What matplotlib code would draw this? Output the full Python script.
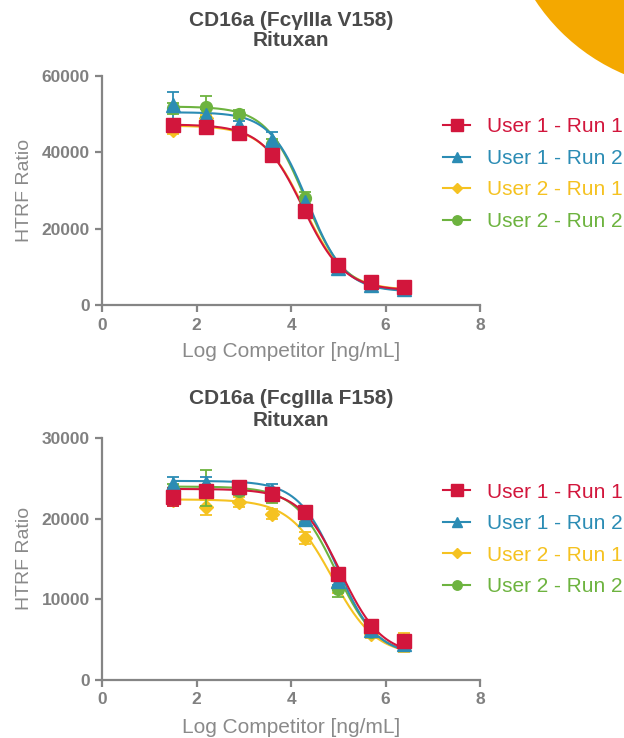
import numpy as np
import matplotlib
matplotlib.use("Agg")
import matplotlib.pyplot as plt
from matplotlib.patches import Ellipse

plt.rcParams['font.family'] = ['Liberation Sans', 'DejaVu Sans']

# ---------------- data ----------------
log_conc = [1.5, 2.2, 2.9, 3.6, 4.3, 5.0, 5.7, 6.4]
series_names = ["User 1 - Run 1", "User 1 - Run 2", "User 2 - Run 1", "User 2 - Run 2"]

# Panel 1: CD16a (FcγIIIa V158)
v158_u1r1 = [47200, 46600, 45000, 39300, 24500, 10500, 5900, 4700]
v158_u1r2 = [52300, 49800, 47200, 43200, 27100, 9600, 5200, 4100]
v158_u2r1 = [45900, 48900, 45400, 39700, 24900, 10500, 5700, 4500]
v158_u2r2 = [51500, 52000, 50000, 42200, 28000, 10000, 5400, 4400]
v158_u1r1_err = [1200, 1000, 900, 800, 900, 700, 500, 500]
v158_u1r2_err = [3500, 1500, 1000, 2200, 1200, 500, 400, 300]
v158_u2r1_err = [1200, 1000, 800, 900, 800, 600, 400, 400]
v158_u2r2_err = [1500, 2800, 1000, 1200, 1500, 600, 400, 400]
# 4PL fit parameters: top, bottom, logIC50, hill
v158_fit_u1r1 = [47300, 3800, 4.25, 1.0]
v158_fit_u1r2 = [50500, 3500, 4.35, 1.1]
v158_fit_u2r1 = [47000, 3900, 4.27, 1.0]
v158_fit_u2r2 = [52000, 3600, 4.30, 1.05]

# Panel 2: CD16a (FcgIIIa F158)
f158_u1r1 = [22700, 23500, 23900, 23100, 20800, 13100, 6600, 4800]
f158_u1r2 = [24300, 24500, 24000, 23400, 20000, 12200, 6100, 4400]
f158_u2r1 = [22300, 21400, 22100, 20600, 17600, 11500, 5700, 4600]
f158_u2r2 = [23700, 23800, 23400, 22800, 20300, 11300, 5900, 4500]
f158_u1r1_err = [1100, 700, 500, 600, 600, 600, 500, 400]
f158_u1r2_err = [900, 700, 500, 900, 600, 500, 400, 300]
f158_u2r1_err = [700, 900, 600, 600, 700, 700, 500, 1200]
f158_u2r2_err = [600, 2200, 500, 800, 700, 1000, 500, 400]
f158_fit_u1r1 = [23700, 3000, 5.05, 1.0]
f158_fit_u1r2 = [24700, 3000, 4.98, 1.05]
f158_fit_u2r1 = [22400, 3000, 4.87, 0.95]
f158_fit_u2r2 = [24000, 3000, 4.95, 1.0]

titles = [("CD16a (Fc\u03b3IIIa V158)", "Rituxan"), ("CD16a (FcgIIIa F158)", "Rituxan")]
x_ticks = [0, 2, 4, 6, 8]
y_ticks_1 = [0, 20000, 40000, 60000]
y_ticks_2 = [0, 10000, 20000, 30000]

# ---------------- style ----------------
colors = ["#D2163C", "#2B8CB4", "#F5C221", "#6DB33F"]
markers = ["s", "^", "D", "o"]
msizes = [10, 9.5, 7, 8.5]
zorders = [6, 5, 3, 4]
gray = "#858585"
txt_gray = "#4a4a4a"

def four_pl(x, p):
    top, bottom, c, h = p
    return bottom + (top - bottom) / (1 + 10 ** ((x - c) * h))

fig = plt.figure(figsize=(6.24, 7.38), dpi=100)
fig.patch.set_facecolor("white")

# orange decorative circle at the top-right corner
fig.patches.append(Ellipse((702 / 624, (738 + 110) / 738), 400 / 624, 400 / 738,
                           transform=fig.transFigure, facecolor="#F4A800",
                           edgecolor="none", zorder=0))

ax1 = fig.add_axes([102.3 / 624, 1 - 305 / 738, 377.7 / 624, 229 / 738])
ax2 = fig.add_axes([102.3 / 624, 1 - 679.5 / 738, 377.7 / 624, 241.2 / 738])

panels = [
    (ax1, [v158_u1r1, v158_u1r2, v158_u2r1, v158_u2r2],
     [v158_u1r1_err, v158_u1r2_err, v158_u2r1_err, v158_u2r2_err],
     [v158_fit_u1r1, v158_fit_u1r2, v158_fit_u2r1, v158_fit_u2r2], y_ticks_1),
    (ax2, [f158_u1r1, f158_u1r2, f158_u2r1, f158_u2r2],
     [f158_u1r1_err, f158_u1r2_err, f158_u2r1_err, f158_u2r2_err],
     [f158_fit_u1r1, f158_fit_u1r2, f158_fit_u2r1, f158_fit_u2r2], y_ticks_2),
]

xs = np.array(log_conc)
xfine = np.linspace(xs.min(), xs.max(), 300)

for ax, ys, errs, fits, yt in panels:
    handles = []
    for i in range(4):
        c = colors[i]
        ax.plot(xfine, four_pl(xfine, fits[i]), color=c, lw=1.5, zorder=zorders[i] - 2)
        ax.errorbar(xs, ys[i], yerr=errs[i], fmt="none", ecolor=c, elinewidth=1.3,
                    capsize=4, capthick=1.3, zorder=zorders[i] - 1)
        ax.plot(xs, ys[i], linestyle="none", marker=markers[i], ms=msizes[i],
                color=c, markeredgecolor=c, zorder=zorders[i])
        h, = ax.plot([], [], color=c, lw=1.5, marker=markers[i], ms=msizes[i] * 0.8,
                     label=series_names[i])
        handles.append(h)
    ax.set_xlim(0, 8)
    ax.set_ylim(0, yt[-1])
    ax.set_xticks(x_ticks)
    ax.set_yticks(yt)
    for s in ["top", "right"]:
        ax.spines[s].set_visible(False)
    for s in ["left", "bottom"]:
        ax.spines[s].set_color(gray)
        ax.spines[s].set_linewidth(1.6)
    ax.tick_params(axis="both", colors=gray, length=5, width=1.6, labelsize=12.5, pad=4,
                   direction="out")
    for lab in ax.get_xticklabels() + ax.get_yticklabels():
        lab.set_fontweight("bold")
        lab.set_color("#808080")
    ax.set_ylabel("HTRF Ratio", fontsize=14, color="#8a8a8a")
    ax.set_xlabel("Log Competitor [ng/mL]", fontsize=15, color="#8a8a8a")
    ax.set_facecolor("none")

    leg_y = 0.764 if ax is ax1 else 0.269
    fig.legend(handles=handles, loc="center left", bbox_to_anchor=(0.710, leg_y),
               frameon=False, fontsize=15, handlelength=1.3, handletextpad=0.8,
               labelspacing=0.6, borderpad=0, borderaxespad=0, labelcolor="linecolor")

for ax, ycoord in [(ax1, -0.205), (ax2, -0.201)]:
    ax.yaxis.set_label_coords(-0.207, 0.5)
    ax.yaxis.label.set_va("center")
    ax.xaxis.set_label_coords(0.5, ycoord)
    ax.xaxis.label.set_va("center")

cx = (102.3 + 480) / 2 / 624
for (t1, t2), y1, y2 in [(titles[0], 20, 41), (titles[1], 399, 420)]:
    fig.text(cx, 1 - y1 / 738, t1, ha="center", va="center", fontsize=15,
             fontweight="bold", color=txt_gray)
    fig.text(cx, 1 - y2 / 738, t2, ha="center", va="center", fontsize=15,
             fontweight="bold", color=txt_gray)

fig.savefig("out.png", dpi=100, facecolor=fig.get_facecolor())
